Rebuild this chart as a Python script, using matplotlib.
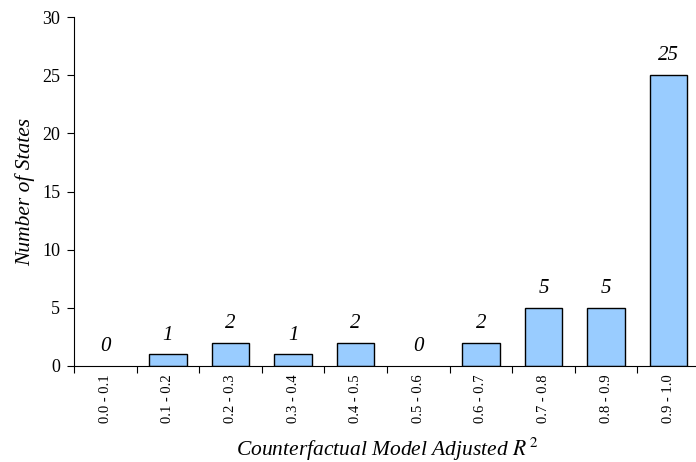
import matplotlib
matplotlib.use('Agg')
import matplotlib.pyplot as plt
import numpy as np

plt.rcParams['font.family'] = 'Liberation Serif'
plt.rcParams['mathtext.fontset'] = 'stix'

bins = ['0.0 - 0.1', '0.1 - 0.2', '0.2 - 0.3', '0.3 - 0.4', '0.4 - 0.5',
        '0.5 - 0.6', '0.6 - 0.7', '0.7 - 0.8', '0.8 - 0.9', '0.9 - 1.0']
counts = [0, 1, 2, 1, 2, 0, 2, 5, 5, 25]

fig = plt.figure(figsize=(6.96, 4.62), dpi=100)
ax = fig.add_axes([74/696, 1 - 366/462, 626/696, 349/462])

x = np.arange(len(bins)) + 0.5
bars = ax.bar(x, counts, width=0.6, color='#99CCFF', edgecolor='black', linewidth=1.0)
for b, c in zip(bars, counts):
    b.set_visible(c > 0)  # empty bins show only the label

for xi, c in zip(x, counts):
    ax.annotate(str(c), (xi, c), xytext=(0, 7), textcoords='offset points',
                ha='center', va='bottom', fontsize=15, style='italic')

ax.set_xlim(0, len(bins))
ax.set_ylim(0, 30)
ax.set_yticks(range(0, 31, 5))
ax.set_xticks(np.arange(len(bins) + 1), minor=False)
ax.set_xticklabels([])
ax.set_xticks(x, minor=True)
ax.set_xticklabels(bins, minor=True, rotation=90, fontsize=10.5)
ax.tick_params(axis='x', which='minor', length=0, pad=6)
ax.tick_params(axis='x', which='major', length=5, direction='out')
ax.tick_params(axis='y', length=5, direction='out', labelsize=13, pad=5)

ax.spines['top'].set_visible(False)
ax.spines['right'].set_visible(False)

ax.set_ylabel('Number of States', fontsize=15.5, style='italic', labelpad=5)
ax.set_xlabel(r'Counterfactual Model Adjusted $R^{\,2}$', fontsize=15.5, style='italic', labelpad=9)

fig.savefig('out.png', dpi=100)
